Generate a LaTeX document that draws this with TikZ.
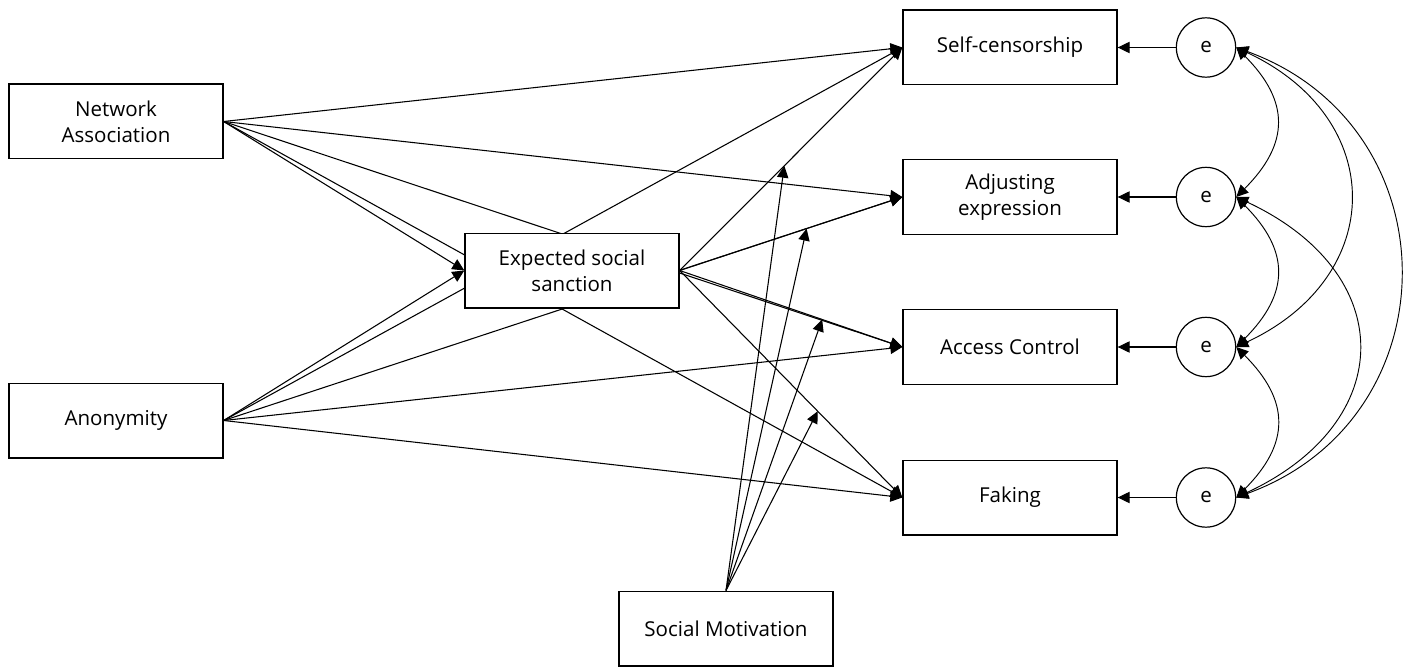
\documentclass[tikz,border=0pt]{standalone}
\usepackage{fontspec}
\setmainfont{Open Sans}
\usetikzlibrary{calc,arrows.meta,backgrounds}
\tikzset{
  var/.style={draw,fill=white,line width=1pt,minimum width=160.5pt,minimum height=56pt,align=center,font=\fontsize{15.4}{19.5}\selectfont},
  err/.style={draw,fill=white,circle,line width=0.9pt,minimum size=44.5pt,inner sep=0pt,font=\fontsize{15.4}{19.5}\selectfont},
  eff/.style={-{Triangle[length=9pt,width=8.5pt]},line width=0.8pt},
  cov/.style={{Triangle[length=9pt,width=8.5pt]}-{Triangle[length=9pt,width=8.5pt]},line width=0.7pt}
}
\begin{document}
\begin{tikzpicture}[x=0.75pt,y=-0.75pt]
\useasboundingbox (0,0) rectangle (1415,667);
\node[var] (na) at (116,121.5) {Network\\Association};
\node[var] (an) at (116,420.5) {Anonymity};
\node[var] (ess) at (572,270.5) {Expected social\\sanction};
\node[var] (sm) at (726,628.5) {Social Motivation};
\node[var] (sc) at (1010,47.5) {Self-censorship};
\node[var] (ae) at (1010,197) {Adjusting\\expression};
\node[var] (ac) at (1010,347) {Access Control};
\node[var] (fk) at (1010,497.5) {Faking};
\foreach \o/\y in {sc/47.5,ae/197,ac/347,fk/497.5}{
  \node[err] (e\o) at (1206,\y) {e};
  \draw[eff] (e\o.west) -- (\o.east);
}
\foreach \t/\f in {sc/0.47,ae/0.57,ac/0.64,fk/0.62}
  \coordinate (m\t) at ($(ess.east)!\f!(\t.west)$);
\begin{scope}[on background layer]
\foreach \t in {sc,ae,ac,fk}{
  \draw[eff] (na.east) -- (\t.west);
  \draw[eff] (an.east) -- (\t.west);
  \draw[eff] (ess.east) -- (\t.west);
  \draw[eff] (sm.north) -- (m\t);
}
\draw[eff] (na.east) -- (ess.west);
\draw[eff] (an.east) -- (ess.west);
\end{scope}
\draw[cov] (esc.east) to[out=-45,in=45,looseness=1.3] (eae.east);
\draw[cov] (eae.east) to[out=-45,in=45,looseness=1.3] (eac.east);
\draw[cov] (eac.east) to[out=-45,in=45,looseness=1.3] (efk.east);
\draw[cov] (esc.east) to[out=-25,in=25,looseness=1.43] (eac.east);
\draw[cov] (eae.east) to[out=-25,in=25,looseness=1.53] (efk.east);
\draw[cov] (esc.east) to[out=-20,in=20,looseness=1.32] (efk.east);
\end{tikzpicture}
\end{document}
